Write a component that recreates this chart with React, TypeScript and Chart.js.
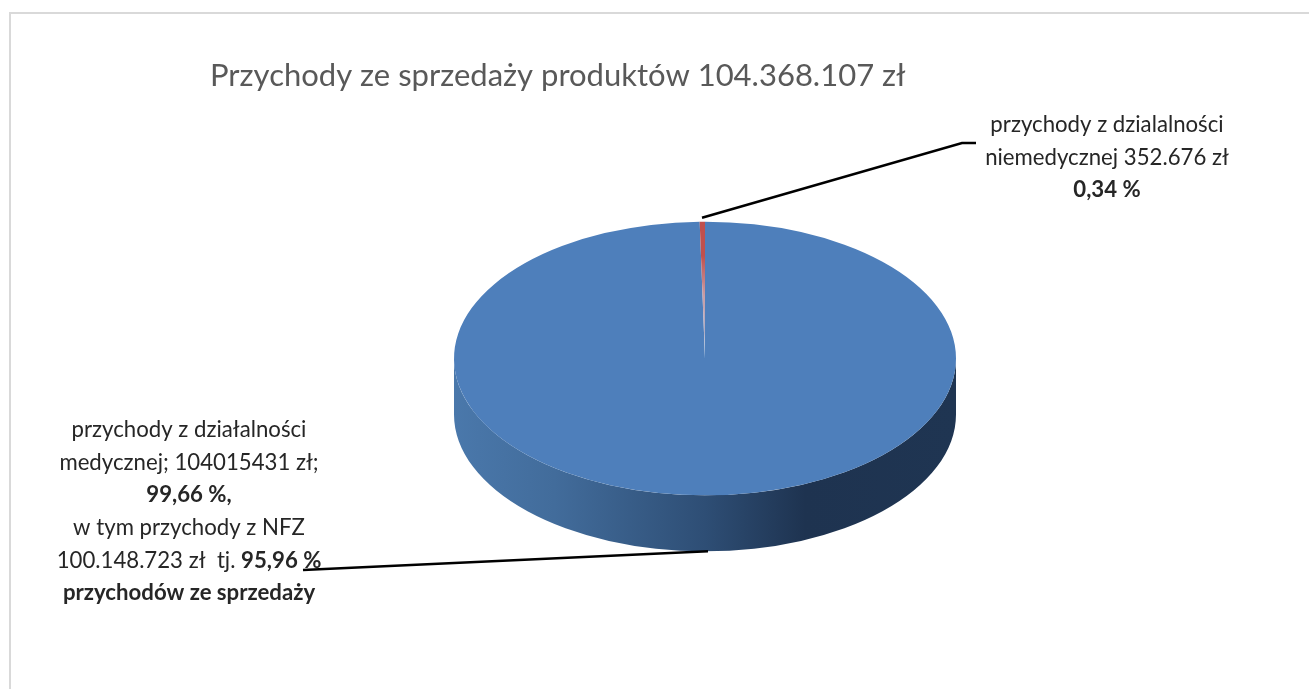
import React, { useEffect, useRef } from "react";
import { Chart, registerables } from "chart.js";

Chart.register(...registerables);

const titleText = "Przychody ze sprzedaży produktów 104.368.107 zł";
const categories = ["przychody z działalności medycznej", "przychody z dzialalności niemedycznej"];
const seriesValues = [104015431, 352676];

type Run = { t: string; b?: boolean };
const leftLabel: Run[][] = [
  [{ t: "przychody z działalności" }],
  [{ t: "medycznej; 104015431 zł;" }],
  [{ t: "99,66 %,", b: true }],
  [{ t: "w tym przychody z NFZ" }],
  [{ t: "100.148.723 zł  tj. " }, { t: "95,96 %", b: true }],
  [{ t: "przychodów ze sprzedaży", b: true }],
];
const rightLabel: Run[][] = [
  [{ t: "przychody z dzialalności" }],
  [{ t: "niemedycznej 352.676 zł" }],
  [{ t: "0,34 %", b: true }],
];

const FONT = "Lato";
const LABEL_SIZE = 22.2;
const TILT = 0.545;
const DEPTH = 56;

function drawLabel(ctx: CanvasRenderingContext2D, lines: Run[][], cx: number, y0: number, lh: number) {
  ctx.textBaseline = "middle";
  ctx.textAlign = "left";
  ctx.fillStyle = "#262626";
  lines.forEach((runs, i) => {
    const fontOf = (r: Run) => `${r.b ? "bold " : ""}${LABEL_SIZE}px ${FONT}`;
    let w = 0;
    runs.forEach((r) => {
      ctx.font = fontOf(r);
      w += ctx.measureText(r.t).width;
    });
    let x = cx - w / 2;
    runs.forEach((r) => {
      ctx.font = fontOf(r);
      ctx.fillText(r.t, x, y0 + i * lh);
      x += ctx.measureText(r.t).width;
    });
  });
}

const pie3d = {
  id: "pie3d",
  beforeDatasetsDraw(chart: any) {
    const { ctx } = chart;
    const arc = chart.getDatasetMeta(0).data[0];
    const { x, y, outerRadius: r } = arc.getProps(["x", "y", "outerRadius"], true);
    const ry = r * TILT;
    const g = ctx.createLinearGradient(x - r, 0, x + r, 0);
    g.addColorStop(0, "#4a78ab");
    g.addColorStop(0.2, "#426c9b");
    g.addColorStop(0.5, "#2e4e75");
    g.addColorStop(0.7, "#1e3350");
    g.addColorStop(1, "#1f3552");
    ctx.save();
    ctx.beginPath();
    ctx.moveTo(x - r, y);
    ctx.lineTo(x - r, y + DEPTH);
    ctx.ellipse(x, y + DEPTH, r, ry, 0, Math.PI, 0, true);
    ctx.lineTo(x + r, y);
    ctx.ellipse(x, y, r, ry, 0, 0, Math.PI, false);
    ctx.closePath();
    ctx.fillStyle = g;
    ctx.fill();
    ctx.restore();
    ctx.save();
    ctx.translate(x, y);
    ctx.scale(1, TILT);
    ctx.translate(-x, -y);
  },
  afterDatasetsDraw(chart: any) {
    chart.ctx.restore();
  },
  afterDraw(chart: any) {
    const { ctx } = chart;
    const arc = chart.getDatasetMeta(0).data[0];
    const { x, y, outerRadius: r } = arc.getProps(["x", "y", "outerRadius"], true);
    const ry = r * TILT;
    ctx.save();
    ctx.strokeStyle = "#000";
    ctx.lineWidth = 2.5;
    ctx.beginPath();
    ctx.moveTo(x - 3, y - ry - 4);
    ctx.lineTo(962, 143);
    ctx.lineTo(976, 143);
    ctx.stroke();
    drawLabel(ctx, rightLabel, 1107, 125, 32.5);
    drawLabel(ctx, leftLabel, 189, 430, 32.6);
    ctx.beginPath();
    ctx.moveTo(x + 3, y + ry + DEPTH);
    ctx.lineTo(303, 570);
    ctx.stroke();
    ctx.restore();
  },
};

export default function App() {
  const ref = useRef<HTMLCanvasElement>(null);
  useEffect(() => {
    const chart = new Chart(ref.current!, {
      type: "pie",
      data: {
        labels: categories,
        datasets: [
          {
            data: seriesValues,
            borderWidth: 0,
            hoverOffset: 0,
            backgroundColor: (c: any) => {
              if (c.dataIndex === 0) return "#4e7fbb";
              const area = c.chart.chartArea;
              if (!area) return "#c0504d";
              const cx = (area.left + area.right) / 2;
              const cy = (area.top + area.bottom) / 2;
              const g = c.chart.ctx.createRadialGradient(cx, cy, 0, cx, cy, (area.bottom - area.top) / 2);
              g.addColorStop(0, "#9fbbdc");
              g.addColorStop(0.45, "#c9a0a8");
              g.addColorStop(0.75, "#c0504d");
              g.addColorStop(1, "#c0504d");
              return g;
            },
          },
        ],
      },
      plugins: [pie3d],
      options: {
        responsive: false,
        animation: false,
        layout: { padding: { left: 210, right: 109, top: 57.5, bottom: 79.5 } },
        plugins: {
          legend: { display: false },
          tooltip: { enabled: false },
          title: {
            display: true,
            text: titleText,
            align: "start",
            color: "#595959",
            font: { family: FONT, size: 31, weight: "normal", lineHeight: 1.2 },
            padding: { top: 0, bottom: 12.8 },
          },
        },
      },
    } as any);
    return () => chart.destroy();
  }, []);
  return (
    <div style={{ position: "fixed", left: 0, top: 0, width: 1309, height: 689, background: "#fff", overflow: "hidden" }}>
      <canvas ref={ref} width={1309} height={689} style={{ position: "absolute", left: 0, top: 0 }} />
      <div style={{ position: "absolute", left: 9, top: 12, width: 1400, height: 800, borderTop: "2px solid #d9d9d9", borderLeft: "2px solid #d9d9d9" }} />
    </div>
  );
}
